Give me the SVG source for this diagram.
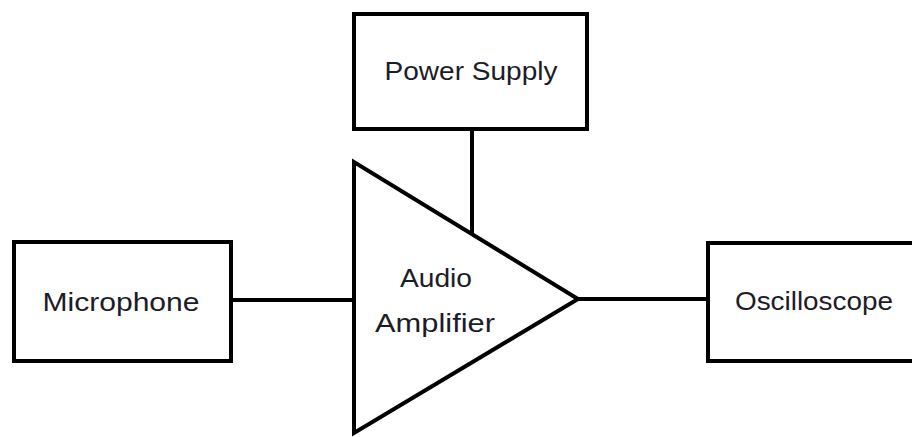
<svg xmlns="http://www.w3.org/2000/svg" width="912" height="437" viewBox="0 0 912 437">
<style>
.box{fill:#fff;stroke:#000;stroke-width:4}
.wire{fill:none;stroke:#000;stroke-width:4}
.lbl{font-family:"Liberation Sans",Arial,sans-serif;font-size:25px;fill:#1c1c28;text-anchor:middle}
</style>
<rect width="912" height="437" fill="#fff"/>
<g id="connectors">
<line class="wire" x1="231" y1="300" x2="356" y2="300"/>
<line class="wire" x1="472" y1="128" x2="472" y2="234"/>
<line class="wire" x1="578" y1="299" x2="708" y2="299"/>
</g>
<g id="microphone">
<rect class="box" x="14" y="242" width="217" height="119"/>
<text class="lbl" x="121" y="311" textLength="157" lengthAdjust="spacingAndGlyphs">Microphone</text>
</g>
<g id="power-supply">
<rect class="box" x="354" y="14" width="233" height="115"/>
<text class="lbl" x="471" y="80" textLength="173" lengthAdjust="spacingAndGlyphs">Power Supply</text>
</g>
<g id="amplifier">
<polygon class="box" points="354,162 354,433 578,299" stroke-linejoin="miter"/>
<text class="lbl" x="436" y="287" textLength="72" lengthAdjust="spacingAndGlyphs">Audio</text>
<text class="lbl" x="435" y="332" textLength="120" lengthAdjust="spacingAndGlyphs">Amplifier</text>
</g>
<g id="oscilloscope">
<rect class="box" x="708" y="243" width="220" height="118"/>
<text class="lbl" x="814" y="310" textLength="158" lengthAdjust="spacingAndGlyphs">Oscilloscope</text>
</g>
</svg>
